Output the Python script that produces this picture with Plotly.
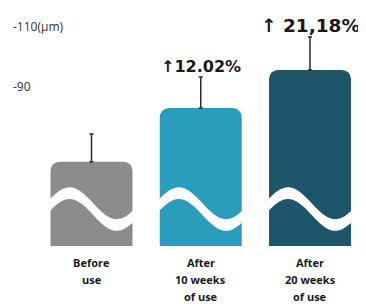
import numpy as np
import plotly.graph_objects as go

cat_lines = [["Before", "use"], ["After", "10 weeks", "of use"], ["After", "20 weeks", "of use"]]
values = [65.1, 83.0, 95.7]
err_up = [9.2, 10.3, 11.0]
colors = ["#8c8c8c", "#2a9cbc", "#1d566b"]
pct_labels = ["", "↑12.02%", "↑ 21,18%"]
pct_sizes = [12, 16, 18.5]
ytick_vals = [110, 90]
ytick_text = ["-110(μm)", "-90"]

xpos = [0, 1, 2]
bar_w = 0.75

fig = go.Figure()
fig.add_trace(go.Bar(
    x=xpos, y=values, width=bar_w, marker=dict(color=colors, line=dict(width=0)),
    error_y=dict(type="data", array=err_up, arrayminus=[0, 0, 0], symmetric=False,
                 color="#2a2a2a", thickness=1.5, width=2),
    hoverinfo="skip",
))

# decorative white wave (axis-break style) across each bar
shapes = []
period = 0.862
amp = 5.3
mid = 49.3
half = 1.95
for xc in xpos:
    left = xc - bar_w / 2
    xs = np.linspace(left - 0.03, left + bar_w + 0.05, 60)
    off = xs - left
    yc = mid + amp * np.sin(2 * np.pi * (off + 0.041) / period)
    top = yc + half
    bot = yc - half
    pts = [f"{x:.4f},{y:.3f}" for x, y in zip(xs, top)] + \
          [f"{x:.4f},{y:.3f}" for x, y in zip(xs[::-1], bot[::-1])]
    path = "M " + " L ".join(pts) + " Z"
    shapes.append(dict(type="path", path=path, xref="x", yref="y",
                       fillcolor="white", line=dict(width=0), layer="above"))

annotations = []
for i, t in enumerate(pct_labels):
    if t:
        annotations.append(dict(x=xpos[i], y=values[i] + err_up[i], xref="x", yref="y",
                                text=f"<b>{t}</b>", showarrow=False, yanchor="bottom",
                                yshift=-1, font=dict(size=pct_sizes[i], color="#1a1a1a",
                                                      family="DejaVu Sans")))
for i, lines in enumerate(cat_lines):
    for k, line in enumerate(lines):
        annotations.append(dict(x=xpos[i], y=0, xref="x", yref="paper", text=f"<b>{line}</b>",
                                showarrow=False, yanchor="top", yshift=-7 - 17 * k,
                                font=dict(size=11, color="#1a1a1a", family="Open Sans")))

# page has an 8px body margin; the figure is sized to fill the remaining window
fig.update_layout(
    width=358, height=296,
    margin=dict(l=2, r=0, t=0, b=58),
    paper_bgcolor="white", plot_bgcolor="white",
    showlegend=False,
    barcornerradius=9,
    xaxis=dict(range=[-0.746, 2.5126], showticklabels=False, showgrid=False, zeroline=False,
               showline=False, ticks=""),
    yaxis=dict(range=[37, 116.33], tickvals=ytick_vals, ticktext=ytick_text,
               ticklabelposition="inside", showgrid=False,
               zeroline=False, showline=False,
               ticks="", tickfont=dict(size=12, color="#333333", family="Open Sans")),
    shapes=shapes,
    annotations=annotations,
)

fig.write_html("out.html")
